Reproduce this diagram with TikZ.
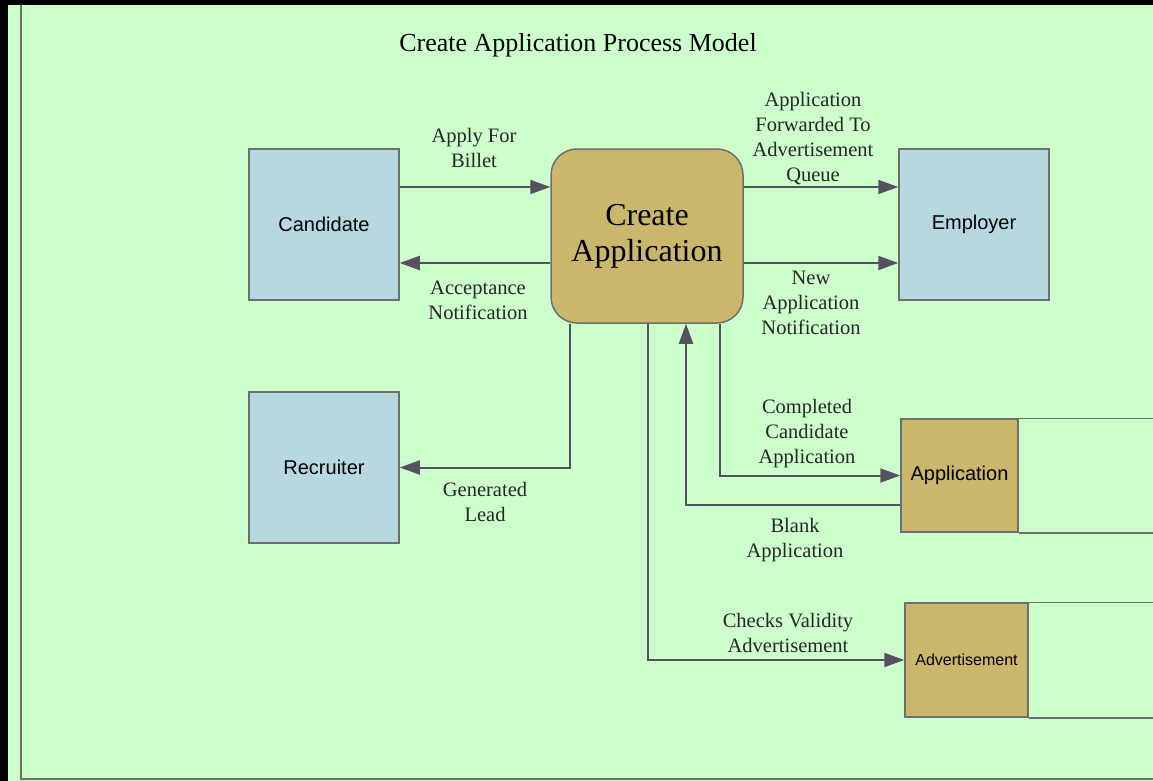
\documentclass[tikz,border=0pt]{standalone}
\usepackage{fontspec}
\setmainfont{Liberation Serif}
\setsansfont{Liberation Sans}
\usetikzlibrary{arrows.meta}

\definecolor{paper}{RGB}{204,255,204}
\definecolor{actorblue}{RGB}{183,216,225}
\definecolor{procTan}{RGB}{203,183,108}
\definecolor{edgegray}{RGB}{110,110,110}
\definecolor{flowgray}{RGB}{86,80,96}

\begin{document}
\begin{tikzpicture}[x=1pt,y=-1pt,>={Triangle[length=20pt,width=14pt]},
  actor/.style={draw=edgegray, line width=1.5pt, fill=actorblue, minimum width=150pt, minimum height=151pt, inner sep=0pt, font=\sffamily\fontsize{20}{24}\selectfont},
  store/.style={draw=edgegray, line width=1.5pt, fill=procTan, inner sep=0pt, font=\sffamily\fontsize{20}{24}\selectfont},
  flow/.style={draw=flowgray, line width=2pt, ->},
  flowlabel/.style={align=center, text=black!85, font=\fontsize{20.5}{25}\selectfont}]
% frame
\useasboundingbox (0,0) rectangle (1153,781);
\fill[paper] (0,0) rectangle (1153,781);
\fill[black] (0,0) rectangle (1153,5);
\fill[black] (0,0) rectangle (8,781);
\draw[edgegray, line width=1.5pt] (21,5.5) -- (21,779) -- (1160,779);
\node[font=\fontsize{26}{30}\selectfont] (title) at (578,45) {Create Application Process Model};

% actors and process
\node[actor] (cand) at (324,224.5) {Candidate};
\node[actor] (recr) at (324,467.5) {Recruiter};
\node[actor] (empl) at (974,224.5) {Employer};
\node[draw=edgegray, line width=1.5pt, fill=procTan, rounded corners=26pt, minimum width=192pt, minimum height=174pt, align=center, font=\fontsize{32}{36}\selectfont] (create) at (647,236) {Create\\Application};

% data stores
\node[store, minimum width=117pt, minimum height=113pt] (appl) at (959.5,475.5) {Application};
\node[store, minimum width=123pt, minimum height=114pt, font=\sffamily\fontsize{16}{19}\selectfont] (adv) at (966.5,660) {Advertisement};
\draw[edgegray, line width=1.5pt] (appl.north east) -- ++(150,0);
\draw[edgegray, line width=1.5pt] (appl.south east) -- ++(150,0);
\draw[edgegray, line width=1.5pt] (adv.north east) -- ++(150,0);
\draw[edgegray, line width=1.5pt] (adv.south east) -- ++(150,0);

% flows
\draw[flow] ([yshift=37.5pt]cand.east) -- ([yshift=37.5pt]cand.east -| create.west);
\draw[flow] ([yshift=-38.5pt]cand.east -| create.west) -- ([yshift=-38.5pt]cand.east);
\draw[flow] ([yshift=37.5pt]empl.west -| create.east) -- ([yshift=37.5pt]empl.west);
\draw[flow] ([yshift=-38.5pt]empl.west -| create.east) -- ([yshift=-38.5pt]empl.west);
\draw[flow] ([xshift=-77pt]create.south) |- (recr.east);
\draw[flow] ([xshift=1pt]create.south) |- (adv.west);
\draw[flow] ([xshift=73pt]create.south) |- (appl.west);
\draw[flow] ([yshift=-29.5pt]appl.west) -| ([xshift=39pt]create.south);

% labels
\node[flowlabel] (lapply) at (474,148) {Apply For\\Billet};
\node[flowlabel] (laccept) at (478,300) {Acceptance\\Notification};
\node[flowlabel] (lforward) at (813,139) {Application\\Forwarded To\\Advertisement\\Queue};
\node[flowlabel] (lnew) at (811,303) {New\\Application\\Notification};
\node[flowlabel] (llead) at (485,502) {Generated\\Lead};
\node[flowlabel] (lcompleted) at (807,434) {Completed\\Candidate\\Application};
\node[flowlabel] (lblank) at (795,540) {Blank\\Application};
\node[flowlabel] (lchecks) at (788,633) {Checks Validity\\Advertisement};
\end{tikzpicture}
\end{document}
